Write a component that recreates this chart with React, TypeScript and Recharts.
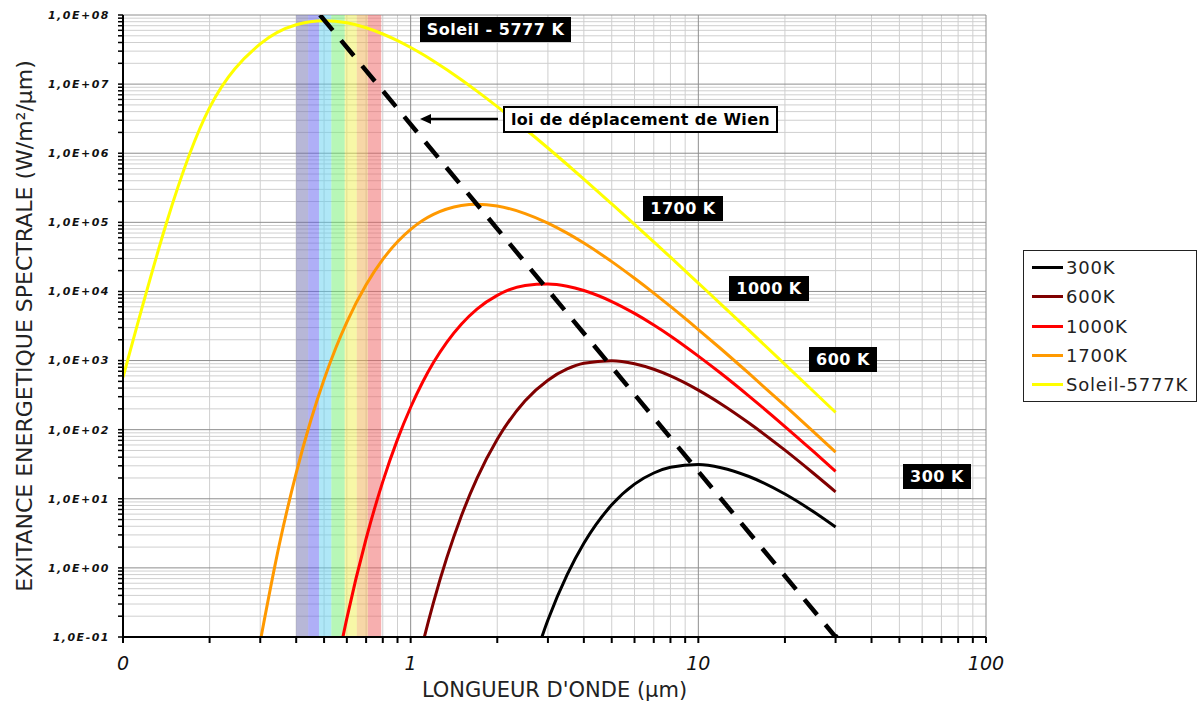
import React from 'react';
import { LineChart, Line, XAxis, YAxis, CartesianGrid, ReferenceArea } from 'recharts';

// wavelengths (µm) shared by the blackbody curves
const WL = [0.1, 0.15, 0.2, 0.25, 0.3, 0.35, 0.4, 0.45, 0.5, 0.55, 0.6, 0.7, 0.8, 0.9, 1, 1.1, 1.2, 1.5, 1.7, 2, 2.5, 3, 3.5, 4, 5, 6, 7, 8, 10, 12, 15, 20, 25, 30];

// spectral exitance (W/m²/µm)
const SOLEIL = [570, null, 4.57e6, null, 3.82e7, null, 7.24e7, null, 8.28e7, null, 7.7e7, 6.53e7, 5.31e7, 4.25e7, 3.38e7, 2.7e7, 2.16e7, 1.16e7, 7.92e6, 4.72e6, 2.24e6, 1.19e6, 6.87e5, 4.23e5, 1.85e5, 9.35e4, 5.21e4, 3.13e4, 1.32e4, 6520, 2730, 882, 366, 178];
const K1700 = [null, null, null, null, 0.086, 2.24, 23.6, 138, 533, 1543, 3600, 1.25e4, 2.91e4, 5.22e4, 7.9e4, 1.06e5, 1.3e5, 1.75e5, 1.83e5, 1.72e5, 1.34e5, 9.75e4, 6.97e4, 5.01e4, 2.7e4, 1.55e4, 9470, 6070, 2810, 1470, 650, 222, 95.1, 47.3];
const K1000 = [null, null, null, null, null, null, null, null, null, 0.0323, 0.186, 2.64, 17.7, 72.3, 211, 485, 934, 3360, 5560, 8790, 1.22e4, 1.28e4, 1.19e4, 1.03e4, 7140, 4810, 3270, 2270, 1160, 649, 306, 111, 49.2, 25.0];
const K600 = [null, null, null, null, null, null, null, null, null, null, null, null, null, null, 0.0144, 0.079, 0.315, 5.62, 19.7, 72.6, 262, 520, 755, 912, 997, 901, 748, 600, 374, 236, 125, 50.5, 23.8, 12.6];
const K300 = [null, null, null, null, null, null, null, null, null, null, null, null, null, null, null, null, null, null, null, null, 0.0179, 0.176, 0.798, 2.27, 8.17, 16.3, 23.6, 28.5, 31.4, 28.2, 21.0, 11.7, 6.59, 3.9];

// Wien displacement line end points
const WIEN_WL = [0.484, 30];
const WIEN_M = [1e8, 0.1];

// visible spectrum bands (µm)
const BAND_FROM = [0.4, 0.44, 0.48, 0.53, 0.59, 0.65, 0.71];
const BAND_TO = [0.44, 0.48, 0.53, 0.59, 0.65, 0.71, 0.79];
const BAND_COLORS = ['#7070b0', '#6060f0', '#60d0f0', '#70f070', '#f0f050', '#f0b050', '#f06060'];

const X_DECADES = [0.1, 1, 10, 100];
const Y_DECADES = [0.1, 1, 10, 100, 1e3, 1e4, 1e5, 1e6, 1e7, 1e8];
const MINOR_STEPS = [2, 3, 4, 5, 6, 7, 8, 9];

const SERIES = [
  { key: 'k300', name: '300K', color: '#000000', values: K300 },
  { key: 'k600', name: '600K', color: '#800000', values: K600 },
  { key: 'k1000', name: '1000K', color: '#ff0000', values: K1000 },
  { key: 'k1700', name: '1700K', color: '#ff9900', values: K1700 },
  { key: 'soleil', name: 'Soleil-5777K', color: '#ffff00', values: SOLEIL },
];

const minorsOf = (decades: number[]) =>
  decades.slice(0, -1).flatMap((d) => MINOR_STEPS.map((s) => s * d));

const X_MINOR = minorsOf(X_DECADES);
const Y_MINOR = minorsOf(Y_DECADES);
const X_TICKS = [...X_DECADES, ...X_MINOR].sort((a, b) => a - b);
const Y_TICKS = [...Y_DECADES, ...Y_MINOR].sort((a, b) => a - b);

const isDecade = (v: number) => Math.abs(Math.log10(v) - Math.round(Math.log10(v))) < 1e-6;

const rows = WL.map((wl, i) => {
  const r: any = { wl };
  SERIES.forEach((s) => (r[s.key] = s.values[i]));
  return r;
});
const wienRows = WIEN_WL.map((wl, i) => ({ wl, m: WIEN_M[i] }));

const FONT = '"DejaVu Sans", Verdana, sans-serif';

const fmtY = (v: number) => {
  if (!isDecade(v)) return '';
  const e = Math.round(Math.log10(v));
  return `1,0E${e < 0 ? '-' : '+'}${String(Math.abs(e)).padStart(2, '0')}`;
};
const fmtX = (v: number) => {
  if (!isDecade(v)) return '';
  return v < 0.5 ? '0' : String(Math.round(v));
};

const tagStyle: React.CSSProperties = {
  position: 'absolute',
  background: '#000',
  color: '#fff',
  fontFamily: FONT,
  fontWeight: 'bold',
  fontSize: 16,
  letterSpacing: 0.5,
  height: 25,
  lineHeight: '25px',
  textAlign: 'center',
};

const TAGS = [
  { text: 'Soleil - 5777 K', left: 420, top: 17, width: 151 },
  { text: '1700 K', left: 643, top: 196, width: 80 },
  { text: '1000 K', left: 729, top: 276, width: 80 },
  { text: '600 K', left: 809, top: 347, width: 68 },
  { text: '300 K', left: 903, top: 464, width: 68 },
];

export default function App() {
  return (
    <div style={{ position: 'absolute', left: 0, top: 0, width: 1200, height: 709, background: '#fff' }}>
      <LineChart width={1200} height={709} data={rows} margin={{ top: 15, right: 214, bottom: 0, left: 0 }}>
        <CartesianGrid verticalValues={X_MINOR} horizontalValues={Y_MINOR} stroke="#cfcfcf" />
        <CartesianGrid verticalValues={X_DECADES} horizontalValues={Y_DECADES} stroke="#8e8e8e" />
        {BAND_FROM.map((x1, i) => (
          <ReferenceArea key={i} x1={x1} x2={BAND_TO[i]} fill={BAND_COLORS[i]} fillOpacity={0.5} stroke="none" />
        ))}
        <XAxis
          dataKey="wl"
          type="number"
          scale="log"
          domain={[0.1, 100]}
          ticks={X_TICKS}
          interval={0}
          allowDataOverflow
          tickFormatter={fmtX}
          height={72}
          tickSize={6}
          tickMargin={14}
          axisLine={{ stroke: '#000', strokeWidth: 2 }}
          tickLine={{ stroke: '#000', strokeWidth: 2 }}
          tick={{ fontFamily: FONT, fontSize: 19, fontStyle: 'italic', fill: '#111' }}
          label={{
            value: "LONGUEUR D'ONDE (µm)",
            position: 'insideBottom',
            offset: 12,
            style: { fontFamily: FONT, fontSize: 21, fill: '#222' },
          }}
        />
        <YAxis
          type="number"
          scale="log"
          domain={[0.1, 1e8]}
          ticks={Y_TICKS}
          interval={0}
          allowDataOverflow
          tickFormatter={fmtY}
          width={123}
          tickSize={5}
          tickMargin={8}
          axisLine={{ stroke: '#000', strokeWidth: 2 }}
          tickLine={{ stroke: '#000', strokeWidth: 1.5 }}
          tick={{ fontFamily: FONT, fontSize: 11, fontWeight: 'bold', fontStyle: 'italic', fill: '#111', letterSpacing: 1.5 }}
          label={{
            value: 'EXITANCE ENERGETIQUE SPECTRALE (W/m²/µm)',
            angle: -90,
            position: 'center',
            dx: -37,
            style: { fontFamily: FONT, fontSize: 22, fill: '#222' },
          }}
        />
        {SERIES.map((s) => (
          <Line
            key={s.key}
            dataKey={s.key}
            name={s.name}
            stroke={s.color}
            strokeWidth={3}
            type="monotone"
            connectNulls={s.key === 'soleil'}
            dot={false}
            isAnimationActive={false}
          />
        ))}
        <Line
          data={wienRows}
          dataKey="m"
          stroke="#000"
          strokeWidth={4.5}
          strokeDasharray="20 13"
          type="linear"
          isAnimationActive={false}
          dot={(p: any) =>
            p.index === wienRows.length - 1 ? (
              <circle key={p.key ?? 'end'} cx={p.cx} cy={p.cy} r={3} fill="#000" />
            ) : (
              <g key={p.key ?? p.index} />
            )
          }
        />
      </LineChart>

      {TAGS.map((t) => (
        <div key={t.text} style={{ ...tagStyle, left: t.left, top: t.top, width: t.width }}>
          {t.text}
        </div>
      ))}

      <div
        style={{
          position: 'absolute',
          left: 503,
          top: 106,
          width: 271,
          height: 23,
          border: '2px solid #000',
          background: '#fff',
          fontFamily: FONT,
          fontWeight: 'bold',
          fontSize: 16,
          lineHeight: '23px',
          textAlign: 'center',
          letterSpacing: 0.3,
        }}
      >
        loi de déplacement de Wien
      </div>
      <svg style={{ position: 'absolute', left: 0, top: 0 }} width={1200} height={709} pointerEvents="none">
        <line x1={498} y1={119} x2={428} y2={119} stroke="#000" strokeWidth={2.5} />
        <path d="M420 119 L431 114 L431 124 Z" fill="#000" />
      </svg>

      <div
        style={{
          position: 'absolute',
          left: 1023,
          top: 250,
          width: 172,
          height: 148,
          border: '1px solid #222',
          background: '#fff',
          fontFamily: FONT,
          fontSize: 18,
          color: '#222',
          paddingTop: 2,
          boxSizing: 'content-box',
        }}
      >
        {SERIES.map((s) => (
          <div key={s.key} style={{ display: 'flex', alignItems: 'center', height: 29.3 }}>
            <div style={{ width: 31, height: 3, background: s.color, marginLeft: 8, marginRight: 3 }} />
            <span style={{ letterSpacing: 0.8 }}>{s.name}</span>
          </div>
        ))}
      </div>
    </div>
  );
}
